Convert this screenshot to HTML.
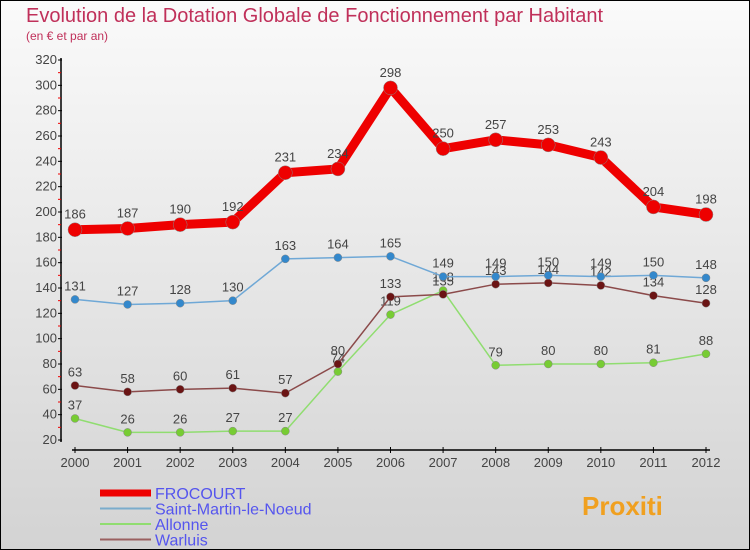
<!DOCTYPE html>
<html><head><meta charset="utf-8"><style>
body{margin:0}
#c{width:750px;height:550px;position:relative;box-sizing:border-box;border:1px solid #000;background:linear-gradient(#fafafa,#d3d3d3);font-family:"Liberation Sans",sans-serif;overflow:hidden}
</style></head><body>
<div id="c">
<svg id="s" width="750" height="550" style="position:absolute;left:-1px;top:-1px">
<text x="26" y="22" font-size="20" fill="#c0305a">Evolution de la Dotation Globale de Fonctionnement par Habitant</text>
<text x="26" y="40" font-size="12" fill="#c0305a">(en € et par an)</text>
</svg>
</div>
<script>
const years=[2000,2001,2002,2003,2004,2005,2006,2007,2008,2009,2010,2011,2012];
const frocourt=[186,187,190,192,231,234,298,250,257,253,243,204,198];
const stMartin=[131,127,128,130,163,164,165,149,149,150,149,150,148];
const allonne=[37,26,26,27,27,74,119,138,79,80,80,81,88];
const warluis=[63,58,60,61,57,80,133,135,143,144,142,134,128];
const yTicks=[20,40,60,80,100,120,140,160,180,200,220,240,260,280,300,320];
const NS='http://www.w3.org/2000/svg';
const s=document.getElementById('s');
const X=i=>75+i*(706-75)/12;
const Y=v=>440-(v-20)*380/300;
function el(t,a,txt){const e=document.createElementNS(NS,t);for(const k in a)e.setAttribute(k,a[k]);if(txt!=null)e.textContent=txt;s.appendChild(e);return e;}
let ax=el('line',{x1:61,y1:58,x2:61,y2:442,stroke:'#000','stroke-width':1.5});


yTicks.forEach(v=>{el('line',{x1:58,x2:62,y1:Y(v),y2:Y(v),stroke:'#000'});
 if(v<320)el('line',{x1:58,x2:61,y1:Y(v+10),y2:Y(v+10),stroke:'#e00'});
 const t=el('text',{x:57,y:Y(v)+4,'font-size':13,fill:'#444','text-anchor':'end'},v);
 
 });
let xa=el('line',{x1:72,y1:450,x2:710,y2:450,stroke:'#000','stroke-width':1.5});


years.forEach((y,i)=>{el('line',{x1:X(i),x2:X(i),y1:447,y2:453,stroke:'#000'});
 const t=el('text',{x:X(i),y:467,'font-size':13,fill:'#444','text-anchor':'middle'},y);
 
 });
function series(d,col,dot,w,r,name){
 const p=el('polyline',{points:d.map((v,i)=>X(i)+','+Y(v)).join(' '),fill:'none',stroke:col,'stroke-width':w,'stroke-linejoin':'round'});
 
 
 d.forEach((v,i)=>{const c=el('circle',{cx:X(i),cy:Y(v),r:r,fill:dot,stroke:'#888','stroke-width':0.5});
  
  
  const t=el('text',{x:X(i),y:Y(v)-9-(r>5?2:0),'font-size':13,fill:'#444','text-anchor':'middle'},v);
  
  });
}
series(allonne,'#90dd70','#77cc33',1.5,4,'allonne');
series(warluis,'#8b4a4a','#6b1414',1.5,4,'warluis');
series(stMartin,'#6fa8d6','#3388cc',1.5,4,'saint-martin');
series(frocourt,'#ee0000','#ee0000',9,7,'frocourt');
const leg=[['FROCOURT','#ee0000',7],['Saint-Martin-le-Noeud','#7aaccc',2],['Allonne','#90dd70',2],['Warluis','#9a6060',2]];
leg.forEach((l,i)=>{const y=493+i*15.5;
 const ln=el('line',{x1:100,x2:151,y1:y,y2:y,stroke:l[1],'stroke-width':l[2]});
 
 
 const t=el('text',{x:155,y:y+6,'font-size':16,fill:'#5555ee'},l[0]);
 
 });
const lg=el('text',{x:582,y:515,'font-size':26,'font-weight':'bold',fill:'#f0a020'},'Proxiti');


</script>
</body></html>
